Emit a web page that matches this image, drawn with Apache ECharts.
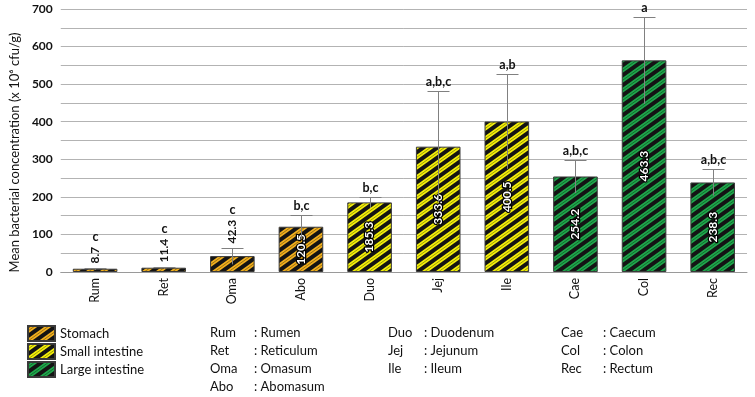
<!DOCTYPE html>
<html>
<head>
<meta charset="utf-8">
<script src="https://cdn.jsdelivr.net/npm/echarts@6/dist/echarts.min.js"></script>
<style>
html, body { margin: 0; padding: 0; background: #fff; }
#chart { width: 755px; height: 397px; }
</style>
</head>
<body>
<div id="chart"></div>
<script>
// data
const categories = ['Rum', 'Ret', 'Oma', 'Abo', 'Duo', 'Jej', 'Ile', 'Cae', 'Col', 'Rec']
const groupOf = ['Stomach', 'Stomach', 'Stomach', 'Stomach', 'Small intestine', 'Small intestine', 'Small intestine', 'Large intestine', 'Large intestine', 'Large intestine']
const barValues = [8.7, 11.4, 42.3, 120.5, 185.3, 333.6, 400.5, 254.2, 563.3, 238.3]
const valueLabels = ['8.7', '11.4', '42.3', '120.5', '185.3', '333.6', '400.5', '254.2', '463.3', '238.3']
const errors = [3, 3, 22, 32, 15, 148, 126, 44, 116, 35]
const letters = ['c', 'c', 'c', 'b,c', 'b,c', 'a,b,c', 'a,b', 'a,b,c', 'a', 'a,b,c']
const groupNames = ['Stomach', 'Small intestine', 'Large intestine']
const abbrevShort = [['Rum', 'Ret', 'Oma', 'Abo'], ['Duo', 'Jej', 'Ile'], ['Cae', 'Col', 'Rec']]
const abbrevLong = [['Rumen', 'Reticulum', 'Omasum', 'Abomasum'], ['Duodenum', 'Jejunum', 'Ileum'], ['Caecum', 'Colon', 'Rectum']]

const FONT = 'Lato, "Open Sans", sans-serif'
const groupColors = { 'Stomach': '#f2b01e', 'Small intestine': '#f4f00a', 'Large intestine': '#1fa84c' }

// striped fill, like the hatched Excel bars
const stripes = (color) => {
  const w = 14
  const h = 10
  const c = document.createElement('canvas')
  c.width = w
  c.height = h
  const ctx = c.getContext('2d')
  ctx.fillStyle = color
  ctx.fillRect(0, 0, w, h)
  for (let n = -1; n <= 2; n++) {
    ctx.beginPath()
    ctx.moveTo(-w, h + n * h + h)
    ctx.lineTo(2 * w, n * h - 2 * h + h)
    ctx.strokeStyle = '#141414'
    ctx.lineWidth = 4
    ctx.stroke()
    ctx.beginPath()
    ctx.moveTo(-w, h + n * h + h + h / 2)
    ctx.lineTo(2 * w, n * h - 2 * h + h + h / 2)
    ctx.strokeStyle = 'rgba(0,0,0,0.45)'
    ctx.lineWidth = 0.8
    ctx.stroke()
  }
  return c
}

const measure = (() => {
  const ctx = document.createElement('canvas').getContext('2d')
  return (text, font) => {
    ctx.font = font
    return ctx.measureText(text).width
  }
})()

const chart = echarts.init(document.getElementById('chart'))

const barSeries = groupNames.map(g => ({
  name: g,
  type: 'bar',
  barWidth: '65%',
  barGap: '-100%',
  animation: false,
  itemStyle: {
    color: { image: stripes(groupColors[g]), repeat: 'repeat' },
    borderColor: '#3a3a3a',
    borderWidth: 1
  },
  label: {
    show: true,
    position: 'inside',
    rotate: 90,
    fontFamily: FONT,
    fontSize: 12,
    fontWeight: 'bold',
    color: '#fff',
    textBorderColor: '#000',
    textBorderWidth: 2.5,
    formatter: p => (barValues[p.dataIndex] >= 60 ? valueLabels[p.dataIndex] : '')
  },
  data: barValues.map((v, i) => (groupOf[i] === g ? v : null))
}))

const errorSeries = {
  type: 'custom',
  animation: false,
  silent: true,
  z: 10,
  renderItem: (params, api) => {
    const i = params.dataIndex
    const hi = api.coord([i, api.value(2)])
    const lo = api.coord([i, api.value(1)])
    const x = Math.round(hi[0]) + 0.5
    const yTop = Math.round(hi[1]) + 0.5
    const stroke = { stroke: '#808080', lineWidth: 1 }
    const children = [
      { type: 'line', shape: { x1: x, y1: yTop, x2: x, y2: lo[1] }, style: stroke },
      { type: 'line', shape: { x1: x - 11, y1: yTop, x2: x + 11, y2: yTop }, style: stroke }
    ]
    let top = yTop
    if (barValues[i] < 60) {
      const font = 'bold 12px ' + FONT
      children.push({
        type: 'text',
        x: x,
        y: yTop - 5,
        rotation: Math.PI / 2,
        style: { text: valueLabels[i], font: font, fill: '#111', align: 'left', verticalAlign: 'middle' }
      })
      top = yTop - 5 - measure(valueLabels[i], font)
    }
    children.push({
      type: 'text',
      x: x,
      y: top - 3,
      style: { text: letters[i], font: 'bold 12.5px ' + FONT, fill: '#111', align: 'center', verticalAlign: 'bottom' }
    })
    return { type: 'group', children: children }
  },
  data: barValues.map((v, i) => [i, v - errors[i], v + errors[i]])
}

const graphics = []
const colX = [[210, 254], [388, 424], [561, 603]]
const rowY = [334, 352, 370, 388]
abbrevShort.forEach((col, c) => {
  col.forEach((s, r) => {
    graphics.push({
      type: 'text', left: colX[c][0], top: rowY[r] - 8,
      style: { text: s, font: '13px ' + FONT, fill: '#111' }
    })
    graphics.push({
      type: 'text', left: colX[c][1], top: rowY[r] - 8,
      style: { text: ': ' + abbrevLong[c][r], font: '13px ' + FONT, fill: '#111' }
    })
  })
})

chart.setOption({
  backgroundColor: '#ffffff',
  animation: false,
  grid: { left: 59, right: 8, top: 9, bottom: 125 },
  legend: {
    data: groupNames,
    orient: 'vertical',
    left: 27,
    top: 325,
    padding: 0,
    itemWidth: 27,
    itemHeight: 15,
    itemGap: 1,
    icon: 'rect',
    textStyle: { fontFamily: FONT, fontSize: 13, color: '#111' }
  },
  xAxis: {
    type: 'category',
    data: categories,
    axisLine: { lineStyle: { color: '#9a9a9a' } },
    axisTick: { show: false },
    axisLabel: { rotate: 90, margin: 6, fontFamily: FONT, fontSize: 12.5, color: '#111' }
  },
  yAxis: {
    type: 'value',
    min: 0,
    max: 700,
    interval: 50,
    name: 'Mean bacterial concentration (x 10\u2076 cfu/g)',
    nameLocation: 'middle',
    nameGap: 37,
    nameTextStyle: { fontFamily: FONT, fontSize: 13, color: '#111', padding: [0, 24, 0, 0] },
    axisLine: { show: false },
    axisTick: { show: false },
    axisLabel: {
      margin: 8,
      fontFamily: FONT,
      fontSize: 12,
      fontWeight: 'bold',
      color: '#111',
      formatter: v => (v % 100 === 0 ? String(v) : '')
    },
    splitLine: { lineStyle: { color: '#b3b3b3', width: 1 } }
  },
  graphic: graphics,
  series: [...barSeries, errorSeries]
})
</script>
</body>
</html>
